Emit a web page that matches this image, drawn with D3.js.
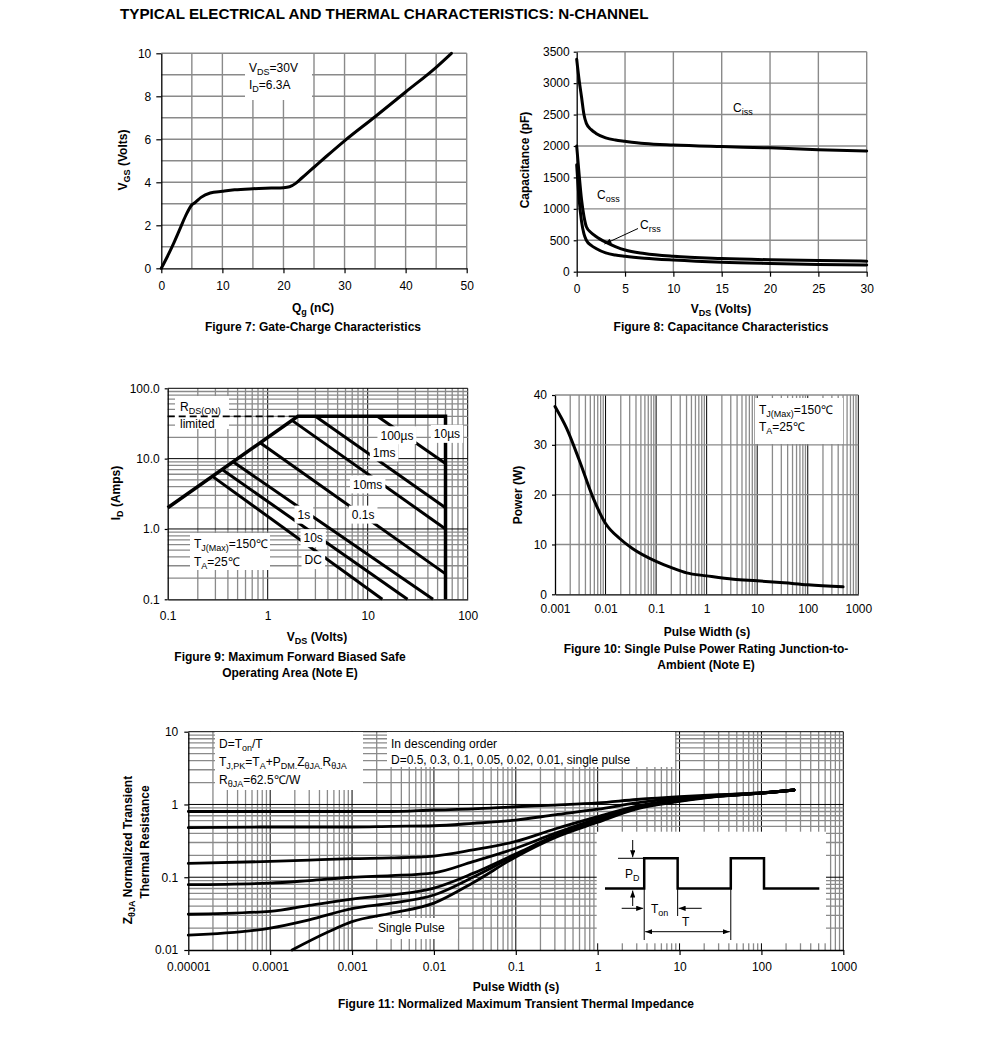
<!DOCTYPE html>
<html><head><meta charset="utf-8">
<script src="https://cdn.jsdelivr.net/npm/d3@7"></script>
<style>body{margin:0;background:#fff}</style>
</head><body>
<svg id="c" width="991" height="1047"></svg>
<script>
// ---------------- DATA ----------------
const titleText = "TYPICAL ELECTRICAL AND THERMAL CHARACTERISTICS: N-CHANNEL";

// Figure 7: gate charge
const fig7Qg  = [0,1,2,3,4,5,5.5,6.5,8,10,12,15,18,20,21,22,23,24,25,27,30,35,40,45,47.5];
const fig7Vgs = [0,0.55,1.15,1.8,2.45,2.95,3.05,3.3,3.5,3.58,3.65,3.7,3.73,3.75,3.79,3.95,4.2,4.45,4.7,5.2,5.93,7.05,8.2,9.35,10];
const fig7XTicks = [0,10,20,30,40,50];
const fig7YTicks = [0,2,4,6,8,10];

// Figure 8: capacitance
const fig8Vds  = [0,0.25,0.5,0.75,1,1.5,2,3,4,5,7,10,15,20,25,30];
const fig8Ciss = [3380,3050,2780,2500,2360,2260,2200,2130,2095,2075,2040,2015,1990,1970,1940,1920];
const fig8Coss = [2000,1550,1150,880,716,620,560,470,400,345,290,245,210,190,178,168];
const fig8Crss = [1700,1150,800,600,500,420,370,300,265,245,215,185,150,130,115,105];
const fig8XTicks = [0,5,10,15,20,25,30];
const fig8YTicks = [0,500,1000,1500,2000,2500,3000,3500];

// Figure 9: safe operating area
const soaLimitV = [0.1, 2, 60, 60];
const soaLimitI = [2, 40, 40, 0.1];
const soaDashV = [0.1, 2];
const soaDashI = [40, 40];
const soaLabels = ["100µs","1ms","10ms","0.1s","1s","10s","DC"];
const soaV0 = [12.5, 3, 1.75, 0.84, 0.45, 0.35, 0.28];
const soaI0 = [40, 40, 35, 16.8, 9, 7, 5.6];
const soaV1 = [60, 60, 60, 60, 45, 25, 14];
const soaI1 = [8.5, 2, 1.0, 0.23, 0.1, 0.1, 0.1];
const fig9XTicks = [0.1, 1, 10, 100];
const fig9XTickLabels = ["0.1","1","10","100"];
const fig9YTicks = [0.1, 1, 10, 100];
const fig9YTickLabels = ["0.1","1.0","10.0","100.0"];

// Figure 10: single pulse power
const fig10Pulse = [0.001,0.0017,0.003,0.0057,0.01,0.019,0.034,0.1,0.22,0.4,1,3.4,10,34,100,500];
const fig10Power = [37.7,33.3,27,19.3,14.2,11.2,9.2,6.6,5.2,4.3,3.7,3.0,2.7,2.3,1.9,1.5];
const fig10XTicks = [0.001,0.01,0.1,1,10,100,1000];
const fig10XTickLabels = ["0.001","0.01","0.1","1","10","100","1000"];
const fig10YTicks = [0,10,20,30,40];

// Figure 11: transient thermal impedance
const zthTime = [1e-5,1e-4,3e-4,1e-3,0.003,0.01,0.03,0.1,0.3,1,3,10,30,100,250];
const zthD05  = [0.80,0.80,0.80,0.80,0.80,0.84,0.87,0.93,0.98,1.05,1.17,1.28,1.36,1.45,1.58];
const zthD03  = [0.48,0.49,0.49,0.49,0.50,0.51,0.55,0.61,0.72,0.86,1.05,1.22,1.34,1.44,1.58];
const zthD01  = [0.155,0.165,0.172,0.18,0.184,0.195,0.237,0.31,0.46,0.68,0.95,1.17,1.32,1.43,1.58];
const zthD005 = [0.079,0.083,0.09,0.10,0.105,0.115,0.164,0.25,0.40,0.64,0.92,1.15,1.31,1.43,1.58];
const zthD002 = [0.031,0.034,0.041,0.05,0.057,0.071,0.113,0.21,0.37,0.61,0.90,1.13,1.30,1.43,1.58];
const zthD001 = [0.016,0.020,0.026,0.037,0.044,0.057,0.10,0.20,0.36,0.59,0.89,1.12,1.30,1.43,1.58];
const zthSpTime = [1.85e-4,5e-4,1e-3,3e-3,0.01,0.03,0.1,0.3,1,3,10,30,100,250];
const zthSp     = [0.01,0.0175,0.0245,0.032,0.044,0.084,0.19,0.35,0.57,0.87,1.1,1.29,1.43,1.58];
const fig11XTicks = [1e-5,1e-4,1e-3,1e-2,0.1,1,10,100,1000];
const fig11XTickLabels = ["0.00001","0.0001","0.001","0.01","0.1","1","10","100","1000"];
const fig11YTicks = [0.01,0.1,1,10];
const fig11YTickLabels = ["0.01","0.1","1","10"];
const insetEdges = [1.83, 3.39, 5.87, 7.42];

// ---------------- HELPERS ----------------
const FONT = "Arial, 'Liberation Sans', Helvetica, sans-serif";
const svg = d3.select("#c").attr("font-family", FONT);
const GRID = "#8a8a8a";

const defs = svg.append("defs");
defs.append("marker").attr("id","ah").attr("viewBox","0 0 8 6").attr("refX",8).attr("refY",3)
  .attr("markerWidth",7).attr("markerHeight",5.5).attr("markerUnits","userSpaceOnUse")
  .attr("orient","auto-start-reverse")
  .append("path").attr("d","M0,0 L8,3 L0,6 Z").attr("fill","#000");

function rich(g, x, y, segs, o = {}) {
  const size = o.size || 12;
  const t = g.append("text").attr("x", x).attr("y", y)
    .attr("font-size", size).attr("font-weight", o.bold ? "bold" : "normal")
    .attr("text-anchor", o.anchor || "start").attr("fill", "#000");
  if (o.rotate) t.attr("transform", `rotate(-90,${x},${y})`);
  let shifted = 0;
  segs.forEach(s => {
    const str = typeof s === "string" ? s : s[0];
    const sub = typeof s !== "string";
    const ts = t.append("tspan").text(str);
    const target = sub ? 3 : 0;
    if (target !== shifted) { ts.attr("dy", target - shifted); shifted = target; }
    if (sub) ts.attr("font-size", size * 0.75);
  });
  return t;
}
function box(g, x, y, w, h) {
  g.append("rect").attr("x", x).attr("y", y).attr("width", w).attr("height", h).attr("fill", "#fff");
}
function logGrid(lo, hi) {
  const out = [];
  const e0 = Math.round(Math.log10(lo)), e1 = Math.round(Math.log10(hi));
  for (let e = e0; e < e1; e++)
    for (let m = 1; m < 10; m++) out.push(+(m * Math.pow(10, e)).toPrecision(6));
  out.push(hi);
  return out;
}
const isDecade = v => Math.abs(Math.log10(v) - Math.round(Math.log10(v))) < 1e-9;
function styleAxis(a) {
  a.attr("font-size", 12).attr("font-family", FONT);
  a.select(".domain").attr("stroke", "#000").attr("stroke-width", 1.3);
  a.selectAll(".tick line").attr("stroke", "#000").attr("stroke-width", 1.2);
  a.selectAll(".tick text").attr("fill", "#000");
}
function vGrid(g, x, vals, y0, y1, colorFn, widthFn) {
  g.append("g").selectAll("line").data(vals).join("line")
    .attr("x1", d => x(d)).attr("x2", d => x(d)).attr("y1", y0).attr("y2", y1)
    .attr("stroke", colorFn).attr("stroke-width", widthFn);
}
function hGrid(g, y, vals, x0, x1, colorFn, widthFn) {
  g.append("g").selectAll("line").data(vals).join("line")
    .attr("y1", d => y(d)).attr("y2", d => y(d)).attr("x1", x0).attr("x2", x1)
    .attr("stroke", colorFn).attr("stroke-width", widthFn);
}
function curve(g, xs, ys, x, y, w = 3) {
  const pts = xs.map((v, i) => [v, ys[i]]);
  g.append("path").datum(pts)
    .attr("d", d3.line().x(d => x(d[0])).y(d => y(d[1])).curve(d3.curveMonotoneX))
    .attr("fill", "none").attr("stroke", "#000").attr("stroke-width", w)
    .attr("stroke-linejoin", "round").attr("stroke-linecap", "round");
}

// ---------------- TITLE ----------------
svg.append("text").attr("x", 120).attr("y", 19).attr("font-size", 15.2).attr("font-weight", "bold")
  .attr("fill", "#000").text(titleText);

// ---------------- FIGURE 7 ----------------
{
  const g = svg.append("g");
  const x = d3.scaleLinear().domain([0, 50]).range([161.3, 466.7]);
  const y = d3.scaleLinear().domain([0, 10]).range([268.3, 53.3]);
  vGrid(g, x, d3.range(5, 51, 5), y(0), y(10), GRID, 1.4);
  hGrid(g, y, d3.range(1, 11, 1), x(0), x(50), GRID, 1.4);
  box(g, 245, 54, 67, 46);
  rich(g, 249, 72, ["V", ["DS"], "=30V"]);
  rich(g, 249, 89, ["I", ["D"], "=6.3A"]);
  const ax = g.append("g").attr("transform", `translate(0,${y(0)})`)
    .call(d3.axisBottom(x).tickValues(fig7XTicks).tickSize(5).tickSizeOuter(0).tickPadding(8));
  styleAxis(ax);
  const ay = g.append("g").attr("transform", `translate(${x(0)},0)`)
    .call(d3.axisLeft(y).tickValues(fig7YTicks).tickSize(5).tickSizeOuter(0).tickPadding(5));
  styleAxis(ay);
  curve(g, fig7Qg, fig7Vgs, x, y, 3);
  rich(g, 127, 160, ["V", ["GS"], " (Volts)"], { bold: true, anchor: "middle", rotate: true });
  rich(g, 313, 312, ["Q", ["g"], " (nC)"], { bold: true, anchor: "middle" });
  rich(g, 313, 331, ["Figure 7: Gate-Charge Characteristics"], { bold: true, anchor: "middle" });
}

// ---------------- FIGURE 8 ----------------
{
  const g = svg.append("g");
  const x = d3.scaleLinear().domain([0, 30]).range([576.7, 866.7]);
  const y = d3.scaleLinear().domain([0, 3500]).range([271.7, 51.7]);
  vGrid(g, x, d3.range(5, 31, 5), y(0), y(3500), GRID, 1.4);
  hGrid(g, y, d3.range(500, 3501, 500), x(0), x(30), GRID, 1.4);
  const ax = g.append("g").attr("transform", `translate(0,${y(0)})`)
    .call(d3.axisBottom(x).tickValues(fig8XTicks).tickSize(5).tickSizeOuter(0).tickPadding(8));
  styleAxis(ax);
  const ay = g.append("g").attr("transform", `translate(${x(0)},0)`)
    .call(d3.axisLeft(y).tickValues(fig8YTicks).tickFormat(d3.format("d")).tickSize(3).tickSizeOuter(0).tickPadding(4));
  styleAxis(ay);
  curve(g, fig8Vds, fig8Ciss, x, y, 3);
  curve(g, fig8Vds, fig8Coss, x, y, 3);
  curve(g, fig8Vds, fig8Crss, x, y, 3);
  rich(g, 733, 112, ["C", ["iss"]]);
  rich(g, 597, 199, ["C", ["oss"]]);
  rich(g, 640, 229, ["C", ["rss"]]);
  g.append("line").attr("x1", 638).attr("y1", 228.5).attr("x2", 604.5).attr("y2", 244)
    .attr("stroke", "#000").attr("stroke-width", 1).attr("marker-end", "url(#ah)");
  rich(g, 529, 160, ["Capacitance (pF)"], { bold: true, anchor: "middle", rotate: true });
  rich(g, 721, 313, ["V", ["DS"], " (Volts)"], { bold: true, anchor: "middle" });
  rich(g, 721, 331, ["Figure 8: Capacitance Characteristics"], { bold: true, anchor: "middle" });
}

// ---------------- FIGURE 9 ----------------
{
  const g = svg.append("g");
  const x = d3.scaleLog().domain([0.1, 100]).range([167.7, 467.7]);
  const y = d3.scaleLog().domain([0.1, 100]).range([599.3, 388.3]);
  const gv = logGrid(0.1, 100).filter(v => v > 0.1);
  vGrid(g, x, gv, y(0.1), y(100), d => isDecade(d) ? "#000" : GRID, d => isDecade(d) ? 1 : 1.3);
  hGrid(g, y, gv, x(0.1), x(100), d => isDecade(d) ? "#000" : GRID, d => isDecade(d) ? 1 : 1.3);
  box(g, 175, 396, 54, 33);
  rich(g, 180, 411, ["R", ["DS(ON)"]]);
  rich(g, 180, 428, ["limited"]);
  box(g, 190, 533, 80, 37);
  rich(g, 194, 548, ["T", ["J(Max)"], "=150℃"]);
  rich(g, 194, 566, ["T", ["A"], "=25℃"]);
  g.append("path").datum(soaDashV.map((v, i) => [v, soaDashI[i]]))
    .attr("d", d3.line().x(d => x(d[0])).y(d => y(d[1])))
    .attr("fill", "none").attr("stroke", "#000").attr("stroke-width", 1.8).attr("stroke-dasharray", "7,4");
  g.append("path").datum(soaLimitV.map((v, i) => [v, soaLimitI[i]]))
    .attr("d", d3.line().x(d => x(d[0])).y(d => y(d[1])))
    .attr("fill", "none").attr("stroke", "#000").attr("stroke-width", 3.5).attr("stroke-linejoin", "miter");
  g.append("g").selectAll("line").data(soaLabels).join("line")
    .attr("x1", (d, i) => x(soaV0[i])).attr("y1", (d, i) => y(soaI0[i]))
    .attr("x2", (d, i) => x(soaV1[i])).attr("y2", (d, i) => y(soaI1[i]))
    .attr("stroke", "#000").attr("stroke-width", 3);
  const lab = [
    ["100µs", 19.6, 21.5], ["10µs", 62, 22.5], ["1ms", 14.6, 12.3], ["10ms", 10, 4.3],
    ["0.1s", 9, 1.6], ["1s", 2.3, 1.6], ["10s", 2.85, 0.74], ["DC", 2.85, 0.36]
  ];
  lab.forEach(([t, v, i]) => {
    const cx = x(v), cy = y(i);
    const tt = g.append("text").attr("x", cx).attr("y", cy + 4.3).attr("text-anchor", "middle")
      .attr("font-size", 12).attr("fill", "#000").text(t);
    const bb = tt.node().getBBox();
    g.insert("rect", () => tt.node()).attr("x", bb.x - 3).attr("y", cy - 9).attr("width", bb.width + 6)
      .attr("height", 18).attr("fill", "#fff");
  });
  const ax = g.append("g").attr("transform", `translate(0,${y(0.1)})`)
    .call(d3.axisBottom(x).tickValues(fig9XTicks).tickFormat((d, i) => fig9XTickLabels[i])
      .tickSize(0).tickSizeOuter(0).tickPadding(12));
  styleAxis(ax);
  const ay = g.append("g").attr("transform", `translate(${x(0.1)},0)`)
    .call(d3.axisLeft(y).tickValues(fig9YTicks).tickFormat((d, i) => fig9YTickLabels[i])
      .tickSize(3).tickSizeOuter(0).tickPadding(5));
  styleAxis(ay);
  rich(g, 120, 493, ["I", ["D"], " (Amps)"], { bold: true, anchor: "middle", rotate: true });
  rich(g, 317, 641, ["V", ["DS"], " (Volts)"], { bold: true, anchor: "middle" });
  rich(g, 290, 661, ["Figure 9: Maximum Forward Biased Safe"], { bold: true, anchor: "middle" });
  rich(g, 290, 677, ["Operating Area (Note E)"], { bold: true, anchor: "middle" });
}

// ---------------- FIGURE 10 ----------------
{
  const g = svg.append("g");
  const x = d3.scaleLog().domain([0.001, 1000]).range([555, 858.3]);
  const y = d3.scaleLinear().domain([0, 40]).range([594.3, 395]);
  const gv = logGrid(0.001, 1000).filter(v => v > 0.001);
  vGrid(g, x, gv, y(0), y(40), d => isDecade(d) ? "#000" : GRID, d => isDecade(d) ? 1 : 1.3);
  hGrid(g, y, [10, 20, 30, 40], x(0.001), x(1000), GRID, 1.4);
  box(g, 755, 398, 88, 46);
  rich(g, 759, 414, ["T", ["J(Max)"], "=150℃"]);
  rich(g, 759, 431, ["T", ["A"], "=25℃"]);
  const ax = g.append("g").attr("transform", `translate(0,${y(0)})`)
    .call(d3.axisBottom(x).tickValues(fig10XTicks).tickFormat((d, i) => fig10XTickLabels[i])
      .tickSize(0).tickSizeOuter(0).tickPadding(10));
  styleAxis(ax);
  const ay = g.append("g").attr("transform", `translate(${x(0.001)},0)`)
    .call(d3.axisLeft(y).tickValues(fig10YTicks).tickSize(3).tickSizeOuter(0).tickPadding(5));
  styleAxis(ay);
  curve(g, fig10Pulse, fig10Power, x, y, 3);
  rich(g, 522, 495, ["Power (W)"], { bold: true, anchor: "middle", rotate: true });
  rich(g, 707, 636, ["Pulse Width (s)"], { bold: true, anchor: "middle" });
  rich(g, 706, 653, ["Figure 10: Single Pulse Power Rating Junction-to-"], { bold: true, anchor: "middle" });
  rich(g, 706, 669, ["Ambient (Note E)"], { bold: true, anchor: "middle" });
}

// ---------------- FIGURE 11 ----------------
{
  const g = svg.append("g");
  const x = d3.scaleLog().domain([1e-5, 1000]).range([188.3, 843.3]);
  const y = d3.scaleLog().domain([0.01, 10]).range([950, 731.7]);
  const gv = logGrid(1e-5, 1000).filter(v => v > 1e-5);
  const gh = logGrid(0.01, 10).filter(v => v > 0.01);
  vGrid(g, x, gv, y(0.01), y(10), d => isDecade(d) ? "#000" : GRID, d => isDecade(d) ? 1 : 1.3);
  hGrid(g, y, gh, x(1e-5), x(1000), d => isDecade(d) ? "#000" : GRID, d => isDecade(d) ? 1 : 1.3);
  box(g, 215, 732, 148, 58);
  rich(g, 219, 748, ["D=T", ["on"], "/T"]);
  rich(g, 219, 766, ["T", ["J,PK"], "=T", ["A"], "+P", ["DM."], "Z", ["θJA."], "R", ["θJA"]]);
  rich(g, 219, 784, ["R", ["θJA"], "=62.5℃/W"]);
  box(g, 387, 732, 288, 35);
  rich(g, 391, 748, ["In descending order"]);
  rich(g, 391, 764, ["D=0.5, 0.3, 0.1, 0.05, 0.02, 0.01, single pulse"]);
  box(g, 373, 918, 85, 21);
  rich(g, 378, 932, ["Single Pulse"]);
  [zthD05, zthD03, zthD01, zthD005, zthD002, zthD001].forEach(s => curve(g, zthTime, s, x, y, 2.8));
  curve(g, zthSpTime, zthSp, x, y, 2.8);
  // inset
  box(g, 596.7, 831.7, 229.3, 111.6);
  const ix = d3.scaleLinear().domain([0, 10]).range([605, 819.3]);
  const iy = d3.scaleLinear().domain([0, 1]).range([888.5, 858.3]);
  const wave = [[0, 0], [insetEdges[0], 0], [insetEdges[0], 1], [insetEdges[1], 1], [insetEdges[1], 0],
                [insetEdges[2], 0], [insetEdges[2], 1], [insetEdges[3], 1], [insetEdges[3], 0], [10, 0]];
  g.append("path").datum(wave).attr("d", d3.line().x(d => ix(d[0])).y(d => iy(d[1])))
    .attr("fill", "none").attr("stroke", "#000").attr("stroke-width", 2.5);
  const thin = (x1, y1, x2, y2, ms, me) => {
    const l = g.append("line").attr("x1", x1).attr("y1", y1).attr("x2", x2).attr("y2", y2)
      .attr("stroke", "#000").attr("stroke-width", 1);
    if (ms) l.attr("marker-start", "url(#ah)");
    if (me) l.attr("marker-end", "url(#ah)");
  };
  const e0 = ix(insetEdges[0]), e1 = ix(insetEdges[1]), e2 = ix(insetEdges[2]);
  thin(618, iy(1), e0, iy(1));
  thin(632.7, 840, 632.7, iy(1) - 1, false, true);
  thin(632.7, 906, 632.7, iy(0) + 2, false, true);
  thin(e0, iy(0), e0, 940);
  thin(e1, iy(0), e1, 916);
  thin(e2, iy(0), e2, 940);
  thin(621.7, 908.3, e0 - 1, 908.3, false, true);
  thin(701.7, 908.3, e1 + 1, 908.3, false, true);
  thin(e0 + 1, 931.7, e2 - 1, 931.7, true, true);
  rich(g, 625, 878, ["P", ["D"]]);
  rich(g, 651, 913, ["T", ["on"]]);
  rich(g, 682, 926, ["T"]);
  const ax = g.append("g").attr("transform", `translate(0,${y(0.01)})`)
    .call(d3.axisBottom(x).tickValues(fig11XTicks).tickFormat((d, i) => fig11XTickLabels[i])
      .tickSize(5).tickSizeOuter(0).tickPadding(7));
  styleAxis(ax);
  const ay = g.append("g").attr("transform", `translate(${x(1e-5)},0)`)
    .call(d3.axisLeft(y).tickValues(fig11YTicks).tickFormat((d, i) => fig11YTickLabels[i])
      .tickSize(4).tickSizeOuter(0).tickPadding(6));
  styleAxis(ay);
  rich(g, 132, 850, ["Z", ["θJA"], " Normalized Transient"], { bold: true, anchor: "middle", rotate: true });
  rich(g, 149, 842, ["Thermal Resistance"], { bold: true, anchor: "middle", rotate: true });
  rich(g, 516, 991, ["Pulse Width (s)"], { bold: true, anchor: "middle" });
  rich(g, 516, 1008, ["Figure 11: Normalized Maximum Transient Thermal Impedance"], { bold: true, anchor: "middle" });
}
</script>
</body></html>
